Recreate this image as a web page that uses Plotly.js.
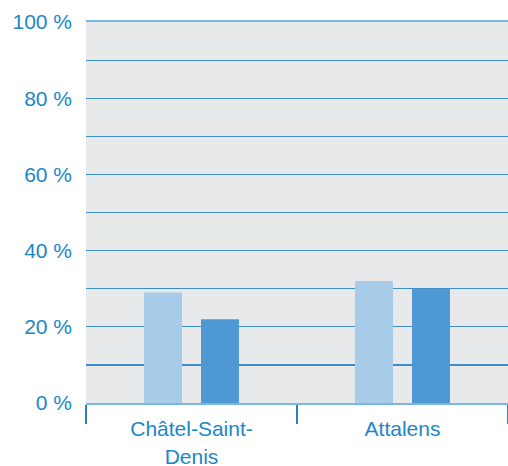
<!DOCTYPE html>
<html>
<head>
<meta charset="utf-8">
<script src="https://cdn.plot.ly/plotly-3.0.1.min.js"></script>
<style>html,body{margin:0;padding:0;background:#fff;}#chart{width:508px;height:466px;}</style>
</head>
<body>
<div id="chart"></div>
<script>
const categories = ["Châtel-Saint-<br>Denis", "Attalens"];
const seriesA = [29, 32];
const seriesB = [22, 30];
const tickValues = [0, 10, 20, 30, 40, 50, 60, 70, 80, 90, 100];
const tickLabels = ["0 %", "", "20 %", "", "40 %", "", "60 %", "", "80 %", "", "100 %"];

const textColor = "#1a87c9";
const traces = [
  {type: "bar", x: categories, y: seriesA, marker: {color: "#a7cbe8"}, hoverinfo: "none"},
  {type: "bar", x: categories, y: seriesB, marker: {color: "#4e98d3"}, hoverinfo: "none"}
];
const layout = {
  width: 508, height: 466,
  margin: {l: 86, r: 0, t: 22, b: 63, pad: 0},
  paper_bgcolor: "#ffffff",
  plot_bgcolor: "#e8e9eb",
  showlegend: false,
  barmode: "group",
  bargap: 0.46,
  bargroupgap: 0.3333,
  font: {family: "Liberation Sans, Arial, sans-serif", size: 21, color: textColor},
  xaxis: {
    type: "category",
    tickson: "boundaries",
    ticks: "outside",
    ticklen: 19,
    tickwidth: 1.5,
    tickcolor: "#2e7fbf",
    showline: true,
    mirror: true,
    linecolor: "#7ab8e2",
    linewidth: 2,
    showgrid: false,
    tickfont: {size: 21, color: textColor},
    ticklabelstandoff: 6,
    fixedrange: true
  },
  yaxis: {
    range: [0, 100],
    tickvals: tickValues,
    ticktext: tickLabels,
    showgrid: true,
    gridcolor: "#3f8dc8",
    gridwidth: 1.2,
    zeroline: false,
    showline: false,
    ticks: "",
    ticklabelstandoff: 13,
    tickfont: {size: 21, color: textColor},
    fixedrange: true
  }
};
Plotly.newPlot("chart", traces, layout, {staticPlot: true, displayModeBar: false});
</script>
</body>
</html>
